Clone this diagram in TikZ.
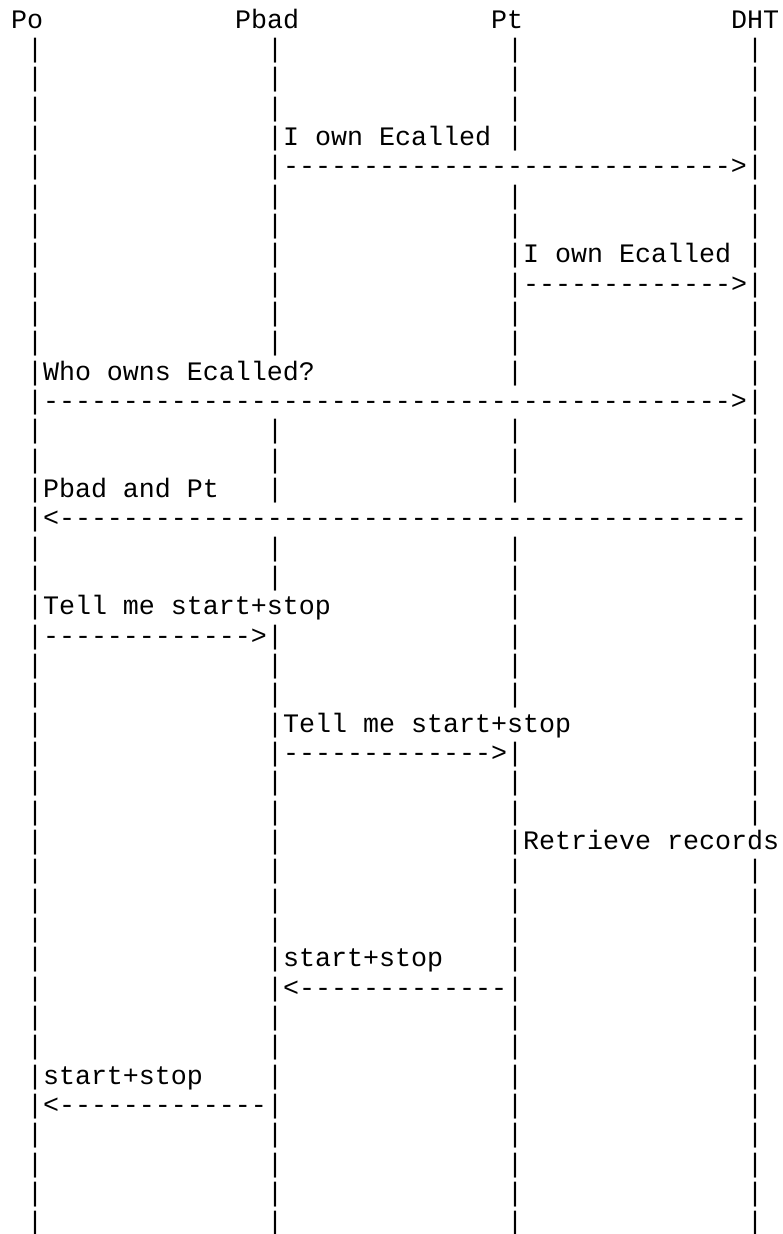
\documentclass[tikz,border=0pt]{standalone}
\usepackage{fontspec}
\setmonofont{Liberation Mono}
\begin{document}
\begin{tikzpicture}[x=8pt,y=-14.6667pt,
  txt/.style={anchor=base west,inner sep=0pt,outer sep=0pt,text=black,
    font=\ttfamily\fontsize{13.333pt}{16pt}\selectfont}]
\useasboundingbox (0pt,0pt) rectangle (391pt,-617pt);
\begin{scope}[shift={(5.5pt,-14.15pt)}]
% participants
\node[txt] (po)   at (0,0)  {Po};
\node[txt] (pbad) at (14,0) {Pbad};
\node[txt] (pt)   at (30,0) {Pt};
\node[txt] (dht)  at (45,0) {DHT};
% lifelines (drawn as | characters, as in the reference)
\foreach \c/\a/\b in {1/1/41, 16/1/11, 16/14/16, 16/18/19, 16/21/41,
    31/1/4, 31/6/12, 31/14/16, 31/18/23, 31/25/41, 46/1/27, 46/29/41}
  \foreach \r in {\a,...,\b}
    \node[txt] (bar-\c-\r) at (\c,\r) {|};
% messages
\node[txt] (l1) at (17,4) {I own Ecalled};
\node[txt] (m1) at (17,5) {---------------------------->};
\node[txt] (l2) at (32,8) {I own Ecalled};
\node[txt] (m2) at (32,9) {------------->};
\node[txt] (l3) at (2,12) {Who owns Ecalled?};
\node[txt] (m3) at (2,13) {------------------------------------------->};
\node[txt] (l4) at (2,16) {Pbad and Pt};
\node[txt] (m4) at (2,17) {<-------------------------------------------};
\node[txt] (l5) at (2,20) {Tell me start+stop};
\node[txt] (m5) at (2,21) {------------->};
\node[txt] (l6) at (17,24) {Tell me start+stop};
\node[txt] (m6) at (17,25) {------------->};
\node[txt] (l7) at (32,28) {Retrieve records};
\node[txt] (l8) at (17,32) {start+stop};
\node[txt] (m8) at (17,33) {<-------------};
\node[txt] (l9) at (2,36) {start+stop};
\node[txt] (m9) at (2,37) {<-------------};
\end{scope}
\end{tikzpicture}
\end{document}
